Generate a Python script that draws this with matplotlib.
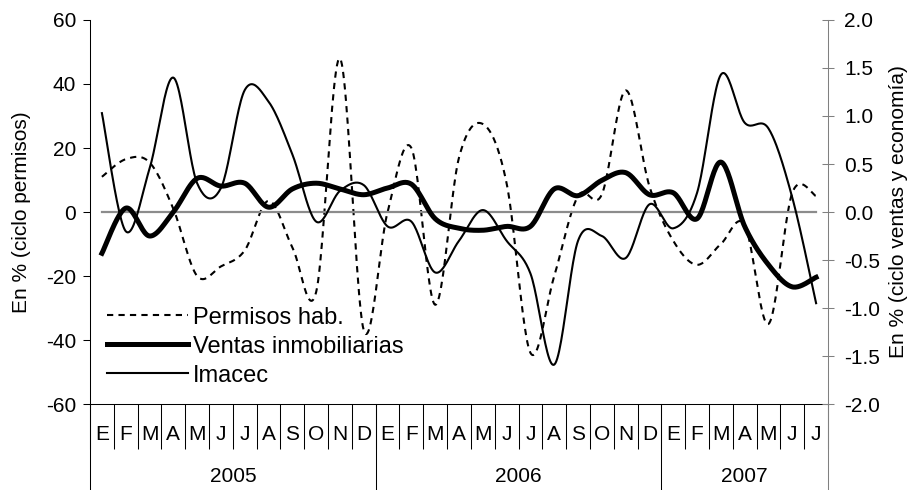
import numpy as np
import matplotlib
matplotlib.use('Agg')
import matplotlib.pyplot as plt
from matplotlib.lines import Line2D
from matplotlib.transforms import blended_transform_factory

plt.rcParams['font.family'] = ['Liberation Sans', 'DejaVu Sans']
plt.rcParams['font.size'] = 15
plt.rcParams['axes.unicode_minus'] = False

# monthly cycle, Jan 2005 - Jul 2007
months = ['E', 'F', 'M', 'A', 'M', 'J', 'J', 'A', 'S', 'O', 'N', 'D'] * 2 + ['E', 'F', 'M', 'A', 'M', 'J', 'J']
years = ['2005', '2006', '2007']
year_len = [12, 12, 7]

permisos = [11, 16.5, 15.5, 1, -20, -17, -12, 3.5, -11, -25, 48, -37,
            0, 20, -29, 17, 27.5, 9, -44, -20, 5, 5.5, 38, 8,
            -9, -16.5, -10, -4, -35, 6, 5]
ventas = [-0.43, 0.04, -0.25, 0.0, 0.35, 0.27, 0.30, 0.05, 0.24, 0.30, 0.24, 0.18,
          0.25, 0.29, -0.07, -0.17, -0.19, -0.15, -0.15, 0.24, 0.17, 0.33, 0.41, 0.18,
          0.20, -0.07, 0.52, -0.15, -0.55, -0.78, -0.68]
imacec = [1.03, -0.2, 0.45, 1.40, 0.3, 0.25, 1.27, 1.15, 0.6, -0.1, 0.22, 0.28,
          -0.15, -0.1, -0.63, -0.3, 0.02, -0.3, -0.64, -1.59, -0.3, -0.25, -0.48, 0.08,
          -0.17, 0.2, 1.43, 0.93, 0.87, 0.15, -0.95]
zero = [0.0] * len(months)


def smooth(y, n=24):
    # Excel style smoothed line: cubic bezier through every point
    pts = np.column_stack([np.arange(len(y), dtype=float), np.asarray(y, float)])
    pad = np.vstack([pts[0], pts, pts[-1]])
    t = np.linspace(0, 1, n, endpoint=False)[:, None]
    segs = []
    for i in range(len(pts) - 1):
        p0, p3 = pad[i + 1], pad[i + 2]
        c1 = p0 + (pad[i + 2] - pad[i]) / 6
        c2 = p3 - (pad[i + 3] - pad[i + 1]) / 6
        segs.append((1 - t) ** 3 * p0 + 3 * (1 - t) ** 2 * t * c1 + 3 * (1 - t) * t ** 2 * c2 + t ** 3 * p3)
    segs.append(pts[-1:])
    out = np.vstack(segs)
    return out[:, 0], out[:, 1]


fig = plt.figure(figsize=(9.15, 4.9), dpi=100)
ax = fig.add_axes([90 / 915, 86 / 490, 738 / 915, 384 / 490])
ax2 = ax.twinx()

dash = (0, (3, 2.5))
ax.plot(*smooth(permisos), color='black', lw=1.5, linestyle=dash)
ax2.plot(range(len(zero)), zero, color='#8c8c8c', lw=1.6, zorder=1)
ax2.plot(*smooth(ventas), color='black', lw=3.6, zorder=3)
ax2.plot(*smooth(imacec), color='black', lw=1.5, zorder=2)

ax.set_xlim(-0.5, len(months) - 0.5)
ax.set_ylim(-60, 60)
ax2.set_ylim(-2, 2)
ax.set_yticks(np.arange(-60, 61, 20))
ax2.set_yticks(np.arange(-2, 2.01, 0.5))
ax2.set_yticklabels([f'{v:.1f}' for v in np.arange(-2, 2.01, 0.5)])

# category axis: boundary ticks + month labels in between
ax.set_xticks(np.arange(-0.5, len(months), 1))
ax.set_xticklabels([])
ax.tick_params(axis='x', which='major', length=32.4, width=0.75, color='black')
ax.set_xticks(np.arange(len(months)), minor=True)
ax.set_xticklabels(months, minor=True)
ax.tick_params(axis='x', which='minor', length=0, pad=15)
ax.tick_params(axis='y', direction='out', length=5, width=0.75, pad=5)
ax2.tick_params(axis='y', direction='inout', length=8.6, width=0.75, color='#808080', pad=7.5)

for s in ['top', 'right']:
    ax.spines[s].set_visible(False)
for s in ['top', 'left', 'bottom']:
    ax2.spines[s].set_visible(False)
ax.spines['left'].set_linewidth(0.75)
ax.spines['bottom'].set_linewidth(0.75)
ax2.spines['right'].set_color('#808080')
ax2.spines['right'].set_linewidth(0.75)

# year separators and labels below months
trans = blended_transform_factory(ax.transData, ax.transAxes)
edges = np.concatenate([[0], np.cumsum(year_len)]) - 0.5
for k, b in enumerate(edges):
    col = '#808080' if k == len(edges) - 1 else 'black'
    ax.plot([b, b], [0, -0.224], color=col, lw=0.75, transform=trans, clip_on=False)
for k, yr in enumerate(years):
    ax.text((edges[k] + edges[k + 1]) / 2, -0.19, yr, transform=trans, ha='center', va='center')

ax.set_ylabel('En % (ciclo permisos)')
ax.yaxis.set_label_coords(-0.08, 0.5)
ax2.set_ylabel('En % (ciclo ventas y economía)')
ax2.yaxis.set_label_coords(1.083, 0.5)

handles = [Line2D([], [], color='black', lw=1.5, linestyle=dash),
           Line2D([], [], color='black', lw=3.6),
           Line2D([], [], color='black', lw=1.5)]
labels = ['Permisos hab.', 'Ventas inmobiliarias', 'Imacec']
ax2.legend(handles, labels, loc='lower left', bbox_to_anchor=(0.023, 0.045), frameon=False,
           fontsize=17, handlelength=3.45, handletextpad=0.2, labelspacing=0.3,
           borderpad=0, borderaxespad=0)

fig.savefig('out.png', dpi=100)
